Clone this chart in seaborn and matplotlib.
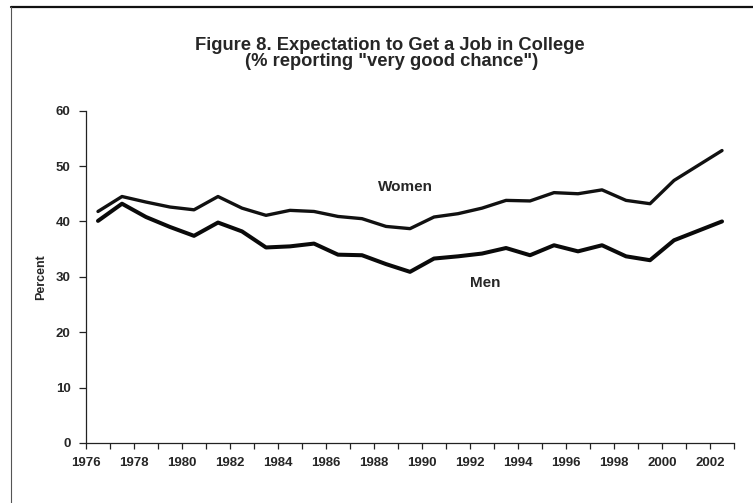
import numpy as np
import pandas as pd
import matplotlib
matplotlib.use("Agg")
import matplotlib.pyplot as plt
from matplotlib.lines import Line2D
from matplotlib.ticker import MultipleLocator
import seaborn as sns

years = list(range(1976, 2003))
women = [41.8, 44.5, 43.5, 42.6, 42.1, 44.5, 42.4, 41.1, 42.0, 41.8, 40.9, 40.5, 39.1, 38.7,
         40.8, 41.4, 42.4, 43.8, 43.7, 45.2, 45.0, 45.7, 43.8, 43.2, 47.4, 50.1, 52.8]
men = [40.1, 43.2, 40.8, 39.0, 37.4, 39.8, 38.2, 35.3, 35.5, 36.0, 34.0, 33.9, 32.3, 30.9,
       33.3, 33.7, 34.2, 35.2, 33.9, 35.7, 34.6, 35.7, 33.7, 33.0, 36.6, 38.3, 40.0]
series_names = ["Women", "Men"]
xtick_labels = [str(y) for y in range(1976, 2003, 2)]
yticks = [0, 10, 20, 30, 40, 50, 60]
title_lines = ["Figure 8. Expectation to Get a Job in College",
               '(% reporting "very good chance")']

sns.set_style("white")
plt.rcParams['font.family'] = ['Liberation Sans', 'DejaVu Sans']

df = pd.DataFrame({
    "year": years * 2,
    "value": women + men,
    "series": [series_names[0]] * len(years) + [series_names[1]] * len(years),
})
# points sit in the middle of each year's category
df["x"] = df["year"] + 0.5

fig = plt.figure(figsize=(7.53, 5.03), dpi=100)
ax = fig.add_axes([0.1142, 0.1193, 0.8606, 0.6607])

sns.lineplot(data=df, x="x", y="value", hue="series", size="series",
             sizes={"Women": 2.4, "Men": 2.9},
             palette={"Women": "#111111", "Men": "#0a0a0a"},
             legend=False, ax=ax, sort=False)

ax.set_xlim(1976, 2003)
ax.set_ylim(0, 60)
ax.set_xticks(list(range(1976, 2003, 2)))
ax.set_xticklabels(xtick_labels, fontsize=9.5, fontweight="bold")
ax.xaxis.set_minor_locator(MultipleLocator(1))
ax.set_yticks(yticks)
ax.set_yticklabels([str(v) for v in yticks], fontsize=9.5, fontweight="bold")
ax.tick_params(axis="x", which="both", direction="out", length=4, width=0.9,
               bottom=True, pad=6, color="#222222")
ax.tick_params(axis="y", which="both", direction="out", length=5, width=0.9,
               left=True, pad=6, color="#222222")
ax.set_xlabel("")
ax.set_ylabel("Percent", fontsize=9, fontweight="bold")
ax.yaxis.set_label_coords(-0.0595, 0.5)

for s in ["top", "right"]:
    ax.spines[s].set_visible(False)
for s in ["left", "bottom"]:
    ax.spines[s].set_color("#222222")
    ax.spines[s].set_linewidth(0.9)

ax.text(1989.3, 46.3, series_names[0], fontsize=11, fontweight="bold",
        ha="center", va="center")
ax.text(1992.65, 28.9, series_names[1], fontsize=11, fontweight="bold",
        ha="center", va="center")

fig.text(390 / 753, 1 - 45 / 503, title_lines[0], fontsize=13.2, fontweight="bold",
         ha="center", va="center")
fig.text(392 / 753, 1 - 61.5 / 503, title_lines[1], fontsize=13.2, fontweight="bold",
         ha="center", va="center")

# page frame lines (top and left)
fig.add_artist(Line2D([11 / 753, 1.0], [1 - 6.5 / 503, 1 - 6.5 / 503],
                      transform=fig.transFigure, color="#111111", lw=1.6))
fig.add_artist(Line2D([11 / 753, 11 / 753], [0, 1 - 6.5 / 503],
                      transform=fig.transFigure, color="#555555", lw=0.8))

fig.savefig("out.png", dpi=100)
